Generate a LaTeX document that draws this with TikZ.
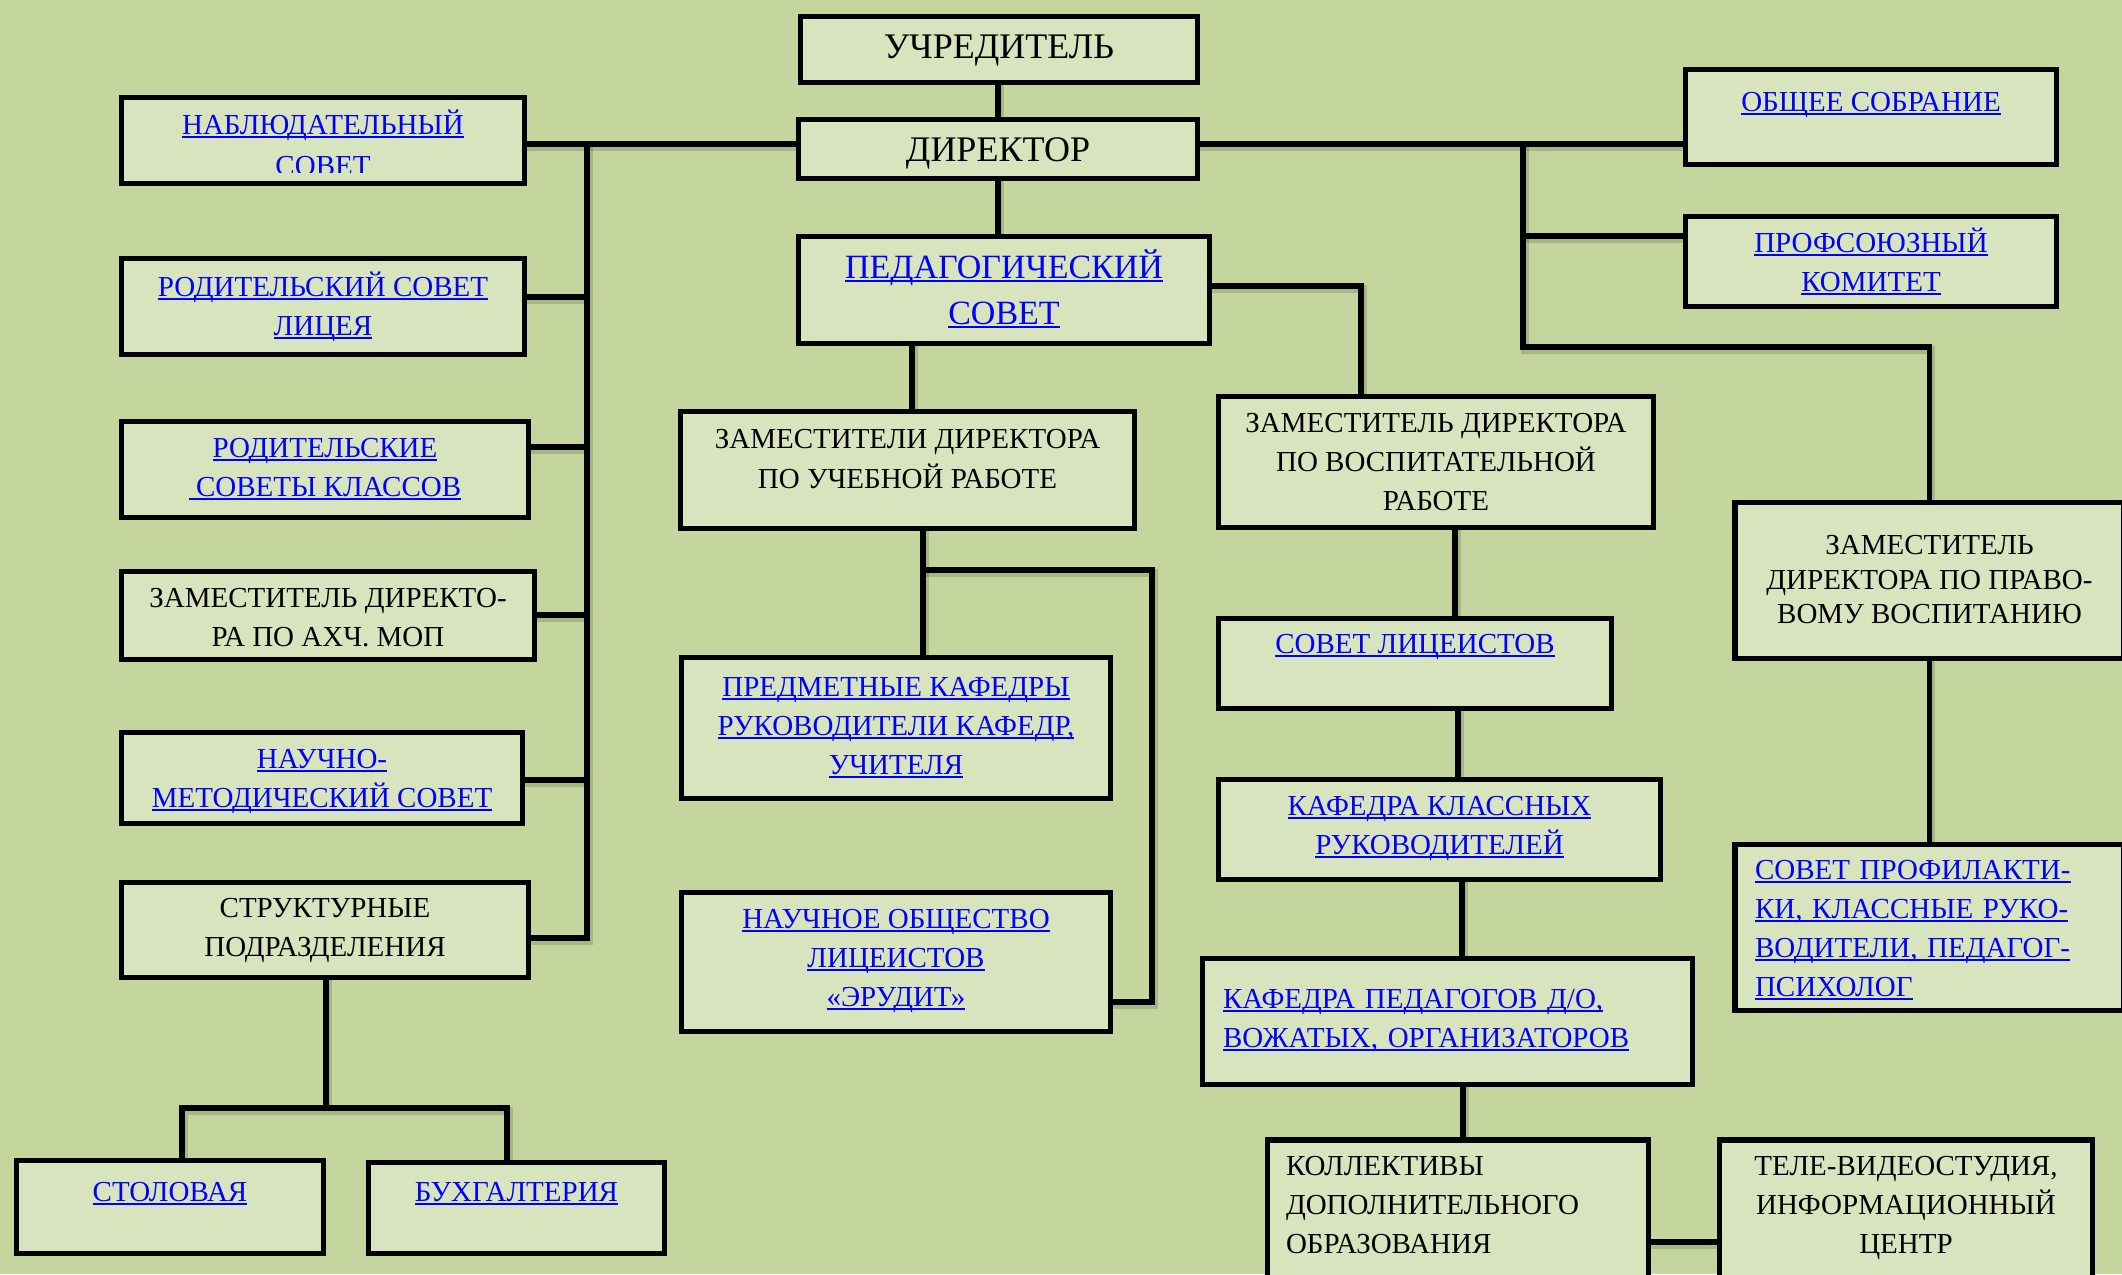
\documentclass[tikz,border=0pt]{standalone}
\usepackage{fontspec}
\setmainfont{Liberation Serif}
\definecolor{bgcol}{RGB}{196,214,158}
\definecolor{boxfill}{RGB}{216,228,189}
\definecolor{lkblue}{RGB}{0,0,255}
\newsavebox\lkbox
\newcommand\lk[1]{\textcolor{lkblue}{\sbox\lkbox{#1}\rlap{\rule[-3.6pt]{\wd\lkbox}{2.2pt}}\usebox\lkbox}}
\newcommand\Tst[1]{\rule{0pt}{#1pt}}
\newcommand\Bst[1]{\rule[-#1pt]{0pt}{#1pt}}
\pgfdeclarelayer{base}
\pgfdeclarelayer{bg}
\pgfsetlayers{base,bg,main}
\begin{document}
\begin{tikzpicture}[x=1pt,y=-1pt,
  box/.style={draw=black, line width=5.5pt, fill=boxfill, rectangle, inner sep=0pt, outer sep=0pt,
    align=center, font=\fontsize{29}{39}\selectfont},
  txt/.style={inner sep=0pt, outer sep=0pt, align=center, font=\fontsize{29}{41}\selectfont},
  conn/.style={draw=black, line width=5.5pt, line cap=rect, line join=miter,
    preaction={draw=black, draw opacity=0.15, line width=8pt, transform canvas={shift={(1.5pt,-2.5pt)}}}}]
\useasboundingbox (0,0) rectangle (2122,1274);
\begin{pgfonlayer}{base}
\fill[bgcol] (0,0) rectangle (2122,1274);
\end{pgfonlayer}

% top / center
\node[box, font=\fontsize{36}{44}\selectfont, minimum width=397, minimum height=66] (uchr) at (999,49.5)
  {\Tst{34}УЧРЕДИТЕЛЬ\Bst{15.2}};
\node[box, font=\fontsize{36}{44}\selectfont, minimum width=399, minimum height=59] (dir) at (998,149)
  {\Tst{34}ДИРЕКТОР\Bst{8.2}};
\node[box, font=\fontsize{34}{46}\selectfont, minimum width=411, minimum height=107] (ped) at (1004,290)
  {\Tst{32.3}\lk{ПЕДАГОГИЧЕСКИЙ}\\\lk{СОВЕТ}\Bst{10.1}};
\node[box, font=\fontsize{29}{40}\selectfont, minimum width=454, minimum height=117] (zuch) at (907.5,470)
  {\Tst{27.5}ЗАМЕСТИТЕЛИ ДИРЕКТОРА\\ПО УЧЕБНОЙ РАБОТЕ\Bst{30.7}};
\node[box, minimum width=429, minimum height=141] (pred) at (896,728)
  {\Tst{27.5}\lk{ПРЕДМЕТНЫЕ КАФЕДРЫ}\\\lk{РУКОВОДИТЕЛИ КАФЕДР,}\\\lk{УЧИТЕЛЯ}\Bst{13.3}};
\node[box, minimum width=429, minimum height=139] (nol) at (896,962)
  {\Tst{27.5}\lk{НАУЧНОЕ ОБЩЕСТВО}\\\lk{ЛИЦЕИСТОВ}\\\lk{«ЭРУДИТ»}\Bst{17.3}};

% left column
\node[box, minimum width=403, minimum height=86] (nabl) at (323,140.5) {};
\begin{scope}
\clip (121,100) rectangle (525,172);
\node[txt] (nablt) at (323,145.2) {\Tst{27.5}\lk{НАБЛЮДАТЕЛЬНЫЙ}\\\lk{СОВЕТ}\Bst{7.5}};
\end{scope}
\node[box, minimum width=403, minimum height=96] (rodl) at (323,306.5)
  {\Tst{27.5}\lk{РОДИТЕЛЬСКИЙ СОВЕТ}\\\lk{ЛИЦЕЯ}\Bst{8.3}};
\node[box, minimum width=407, minimum height=96] (rodk) at (325,469.5)
  {\Tst{27.5}\lk{РОДИТЕЛЬСКИЕ}\\\lk{~СОВЕТЫ КЛАССОВ}\Bst{12.3}};
\node[box, minimum width=413, minimum height=88] (ahch) at (328,615.5)
  {\Tst{30.7}ЗАМЕСТИТЕЛЬ ДИРЕКТО-\\РА ПО АХЧ. МОП\Bst{7.5}};
\node[box, minimum width=401, minimum height=91] (nms) at (322,778)
  {\Tst{27.5}\lk{НАУЧНО-}\\\lk{МЕТОДИЧЕСКИЙ СОВЕТ}\Bst{8.3}};
\node[box, minimum width=407, minimum height=95] (str) at (325,930)
  {\Tst{27.5}СТРУКТУРНЫЕ\\ПОДРАЗДЕЛЕНИЯ\Bst{13.3}};
\node[box, minimum width=307, minimum height=93] (stol) at (170,1207)
  {\Tst{27.5}\lk{СТОЛОВАЯ}\Bst{38.3}};
\node[box, minimum width=296, minimum height=91] (buh) at (516.5,1208)
  {\Tst{27.5}\lk{БУХГАЛТЕРИЯ}\Bst{40.3}};

% right-center column
\node[box, minimum width=435, minimum height=131] (zvos) at (1436,462)
  {\Tst{27.5}ЗАМЕСТИТЕЛЬ ДИРЕКТОРА\\ПО ВОСПИТАТЕЛЬНОЙ\\РАБОТЕ\Bst{9.3}};
\node[box, minimum width=393, minimum height=90] (slic) at (1415,663.5)
  {\Tst{27.5}\lk{СОВЕТ ЛИЦЕИСТОВ}\Bst{47.3}};
\node[box, minimum width=442, minimum height=100] (kkr) at (1439.5,829.5)
  {\Tst{27.5}\lk{КАФЕДРА КЛАССНЫХ}\\\lk{РУКОВОДИТЕЛЕЙ}\Bst{16.3}};
\node[box, align=left, text width=449pt, minimum width=490, minimum height=126] (kpd) at (1447.5,1021.5)
  {\Tst{27.5}\lk{КАФЕДРА ПЕДАГОГОВ Д/О,}\\\lk{ВОЖАТЫХ, ОРГАНИЗАТОРОВ}\Bst{14.3}};
\node[box, align=left, text width=344pt, minimum width=381, minimum height=153] (kol) at (1458,1216.5)
  {\Tst{27.5}КОЛЛЕКТИВЫ\\ДОПОЛНИТЕЛЬНОГО\\ОБРАЗОВАНИЯ\Bst{32.3}};
\node[box, minimum width=373, minimum height=153] (tele) at (1906,1216.5)
  {\Tst{27.5}ТЕЛЕ-ВИДЕОСТУДИЯ,\\ИНФОРМАЦИОННЫЙ\\ЦЕНТР\Bst{32.3}};

% right column
\node[box, minimum width=371, minimum height=95] (obsh) at (1871,117)
  {\Tst{27.5}\lk{ОБЩЕЕ СОБРАНИЕ}\Bst{39.3}};
\node[box, minimum width=371, minimum height=90] (prof) at (1871,261.5)
  {\Tst{28.7}\lk{ПРОФСОЮЗНЫЙ}\\\lk{КОМИТЕТ}\Bst{7.5}};
\node[box, font=\fontsize{29}{34.5}\selectfont, minimum width=389, minimum height=156] (zprav) at (1929.5,580.5)
  {\Tst{27.5}ЗАМЕСТИТЕЛЬ\\ДИРЕКТОРА ПО ПРАВО-\\ВОМУ ВОСПИТАНИЮ\Bst{10.3}};
\node[box, align=left, text width=349pt, minimum width=389, minimum height=166] (sprof) at (1929.5,927.5)
  {\Tst{28.7}\lk{СОВЕТ ПРОФИЛАКТИ-}\\\lk{КИ, КЛАССНЫЕ РУКО-}\\\lk{ВОДИТЕЛИ, ПЕДАГОГ-}\\\lk{ПСИХОЛОГ}\Bst{7.5}};

% junction coordinates
\coordinate (L1) at (587,144);
\coordinate (Lrl) at (587,297);
\coordinate (Lrk) at (587,447);
\coordinate (Lah) at (587,615);
\coordinate (Lnm) at (587,780);
\coordinate (L2) at (587,938);
\coordinate (R1) at (1523,144);
\coordinate (Rp) at (1523,236);
\coordinate (R2) at (1523,347);
\coordinate (P1) at (1361,286);
\coordinate (P2) at (912,380);
\coordinate (U1) at (923,570);
\coordinate (U2) at (1152,570);
\coordinate (U3) at (1152,1002);
\coordinate (V1) at (1455,560);
\coordinate (V2) at (1458,740);
\coordinate (V3) at (1462,920);
\coordinate (V4) at (1463,1110);
\coordinate (K1) at (1700,1242);
\coordinate (S0) at (182,1108);
\coordinate (S1) at (326,1108);
\coordinate (S2) at (507,1108);

\begin{pgfonlayer}{bg}
\draw[conn] (dir.north) -- (dir.north |- uchr.south);
\draw[conn] (dir.south) -- (dir.south |- ped.north);
% left bus
\draw[conn] (nabl.east |- L1) -- (dir.west |- L1);
\draw[conn] (L1) -- (L2) -- (str.east |- L2);
\draw[conn] (rodl.east |- Lrl) -- (Lrl);
\draw[conn] (rodk.east |- Lrk) -- (Lrk);
\draw[conn] (ahch.east |- Lah) -- (Lah);
\draw[conn] (nms.east |- Lnm) -- (Lnm);
% right bus
\draw[conn] (dir.east |- R1) -- (obsh.west |- R1);
\draw[conn] (R1) -- (R2) -- (zprav.north |- R2) -- (zprav.north);
\draw[conn] (Rp) -- (prof.west |- Rp);
\draw[conn] (zprav.south) -- (zprav.south |- sprof.north);
% pedagogical council
\draw[conn] (ped.east |- P1) -- (P1) -- (P1 |- zvos.north);
\draw[conn] (ped.south -| P2) -- (zuch.north -| P2);
% study deputy
\draw[conn] (zuch.south -| U1) -- (pred.north -| U1);
\draw[conn] (U1) -- (U2) -- (U3) -- (nol.east |- U3);
% upbringing chain
\draw[conn] (zvos.south -| V1) -- (slic.north -| V1);
\draw[conn] (slic.south -| V2) -- (kkr.north -| V2);
\draw[conn] (kkr.south -| V3) -- (kpd.north -| V3);
\draw[conn] (kpd.south -| V4) -- (kol.north -| V4);
\draw[conn] (kol.east |- K1) -- (tele.west |- K1);
% structural units
\draw[conn] (str.south -| S1) -- (S1);
\draw[conn] (stol.north -| S0) -- (S0) -- (S2) -- (buh.north -| S2);
\end{pgfonlayer}
\end{tikzpicture}
\end{document}
